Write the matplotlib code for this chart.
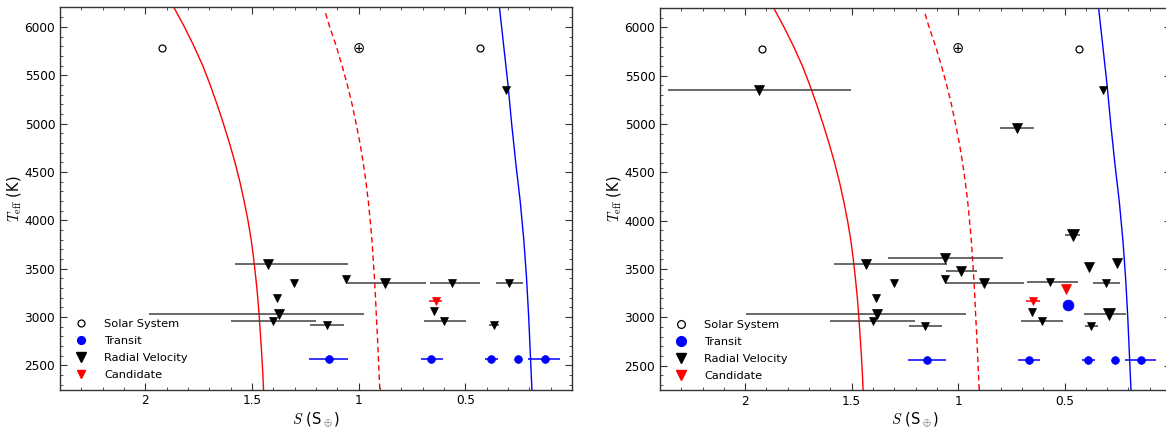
import numpy as np
import matplotlib.pyplot as plt
from matplotlib.lines import Line2D
from matplotlib.ticker import MultipleLocator

plt.rcParams['font.family'] = 'DejaVu Sans'
plt.rcParams['mathtext.fontset'] = 'cm'

nan = np.nan

# Solar system (Venus, Mars) and Earth
ss_s = [1.92, 0.43]
ss_t = [5778, 5778]
earth_s = 1.0
earth_t = 5778

# habitable zone limits
venus_t = [6200, 6000, 5800, 5600, 5400, 5200, 5000, 4800, 4600, 4400, 4200,
           4000, 3800, 3600, 3400, 3200, 3000, 2800, 2600, 2400, 2250]
venus_s = [1.866, 1.817, 1.772, 1.731, 1.696, 1.664, 1.634, 1.606, 1.580, 1.557, 1.537,
           1.519, 1.504, 1.492, 1.482, 1.473, 1.466, 1.460, 1.454, 1.449, 1.446]
runaway_t = [6140, 6000, 5800, 5600, 5400, 5200, 5000, 4800, 4600, 4400, 4200,
             4000, 3800, 3600, 3400, 3200, 3000, 2800, 2600, 2400, 2250]
runaway_s = [1.155, 1.136, 1.105, 1.078, 1.053, 1.031, 1.012, 0.994, 0.979, 0.966, 0.955,
             0.946, 0.938, 0.932, 0.926, 0.921, 0.917, 0.912, 0.908, 0.904, 0.901]
mars_t = [6200, 5800, 5400, 5000, 4600, 4200, 3800, 3400, 3000, 2600, 2250]
mars_s = [0.340, 0.320, 0.300, 0.283, 0.264, 0.243, 0.226, 0.213, 0.203, 0.195, 0.188]

xtick_vals = [2, 1.5, 1, 0.5]
xtick_labels = ['2', '1.5', '1', '0.5']
ytick_vals = [2500, 3000, 3500, 4000, 4500, 5000, 5500, 6000]

# ---- left panel ----
rv1_s = [1.425, 1.303, 1.059, 0.875, 0.561, 0.296, 1.382, 1.373, 1.40, 1.15, 0.646, 0.598, 0.366, 0.308]
rv1_t = [3550, 3350, 3390, 3350, 3350, 3350, 3200, 3035, 2960, 2912, 3060, 2960, 2912, 5350]
rv1_hi = [1.58, nan, nan, 1.06, 0.667, 0.354, nan, 1.983, 1.60, 1.228, nan, 0.695, 0.39, nan]
rv1_lo = [1.05, nan, nan, 0.685, 0.432, 0.232, nan, 0.976, 1.199, 1.07, nan, 0.497, 0.34, nan]
rv1_ms = [7.5, 6.2, 5.8, 6.7, 6.0, 5.8, 5.8, 6.7, 5.6, 5.3, 5.6, 5.8, 5.6, 6.0]

cand1_s = [0.639]
cand1_t = [3170]
cand1_hi = [0.67]
cand1_lo = [0.61]
cand1_ms = [6.0]

tr1_s = [1.141, 0.662, 0.378, 0.253, 0.127]
tr1_t = [2562, 2562, 2562, 2562, 2562]
tr1_hi = [1.232, 0.709, 0.41, nan, 0.206]
tr1_lo = [1.052, 0.606, 0.349, nan, 0.057]
tr1_ms = [5.6, 5.6, 5.6, 5.6, 5.6]

# ---- right panel ----
rv2_s = [1.933, 0.32, 0.722, 0.461, 1.06, 1.431, 0.984, 0.387, 0.255, 1.063, 1.30,
         0.88, 0.567, 0.306, 1.384, 1.380, 0.655, 0.29, 1.40, 0.606, 1.155, 0.377]
rv2_t = [5350, 5350, 4960, 3850, 3610, 3552, 3480, 3524, 3560, 3395, 3357,
         3357, 3362, 3357, 3204, 3038, 3057, 3040, 2960, 2960, 2911, 2911]
rv2_hi = [2.363, nan, 0.801, 0.496, 1.331, 1.585, 1.055, nan, nan, nan, nan,
          1.063, 0.676, 0.366, nan, 1.995, nan, 0.408, 1.60, 0.703, 1.232, 0.405]
rv2_lo = [1.505, nan, 0.644, 0.426, 0.79, 1.051, 0.910, nan, nan, nan, nan,
          0.69, 0.438, 0.241, nan, 0.963, nan, 0.211, 1.204, 0.505, 1.077, 0.343]
rv2_ms = [7.0, 6.0, 7.5, 8.0, 6.7, 7.2, 6.7, 7.4, 7.4, 6.0, 6.2,
          6.5, 6.3, 6.0, 5.6, 6.7, 5.6, 8.0, 5.3, 5.8, 5.6, 6.0]

cand2_s = [0.491, 0.65]
cand2_t = [3290, 3172]
cand2_hi = [nan, 0.68]
cand2_lo = [nan, 0.616]
cand2_ms = [7.2, 6.0]

tr2_s = [0.482, 1.148, 0.667, 0.391, 0.262, 0.139]
tr2_t = [3134, 2562, 2562, 2562, 2562, 2562]
tr2_hi = [nan, 1.236, 0.717, 0.417, nan, 0.215]
tr2_lo = [nan, 1.058, 0.616, 0.359, nan, 0.07]
tr2_ms = [7.8, 5.6, 5.6, 5.6, 5.6, 5.6]


def draw_set(ax, s, t, hi, lo, ms, marker, color, ecolor):
    s = np.array(s)
    t = np.array(t)
    hi = np.array(hi)
    lo = np.array(lo)
    has = ~np.isnan(hi)
    xerr = np.vstack([s[has] - lo[has], hi[has] - s[has]])
    ax.errorbar(s[has], t[has], xerr=xerr, fmt='none', ecolor=ecolor,
                elinewidth=1.1, capsize=0, zorder=2)
    for x, y, m in zip(s, t, ms):
        ax.plot(x, y, marker, color=color, ms=m, mec=color, mew=0.5, zorder=3)


def panel(ax, rv, cand, tr, leg_ms):
    ax.plot(venus_s, venus_t, '-', color='r', lw=1)
    ax.plot(runaway_s, runaway_t, '--', color='r', lw=1, dashes=(4, 2.6))
    ax.plot(mars_s, mars_t, '-', color='b', lw=1)

    ax.plot(ss_s, ss_t, 'o', mfc='none', mec='k', ms=5, mew=0.9)
    ax.text(earth_s, earth_t, '\u2295', ha='center', va='center', fontsize=10.5)

    draw_set(ax, *rv, 'v', 'k', '0.25')
    draw_set(ax, *cand, 'v', 'r', 'r')
    draw_set(ax, *tr, 'o', 'b', 'b')

    ax.set_xlim(2.4, 0)
    ax.set_ylim(2250, 6200)
    ax.set_xticks(xtick_vals)
    ax.set_xticklabels(xtick_labels)
    ax.set_yticks(ytick_vals)
    ax.xaxis.set_minor_locator(MultipleLocator(0.1))
    ax.yaxis.set_minor_locator(MultipleLocator(100))
    ax.tick_params(which='both', direction='in', top=True, right=True,
                   labelsize=8.7, color='0.2')
    ax.tick_params(which='major', length=5)
    ax.tick_params(which='minor', length=2.5)
    for sp in ax.spines.values():
        sp.set_color('0.2')
        sp.set_linewidth(1.0)

    ax.set_xlabel(r'$S$ (S$_\oplus$)', fontsize=10.5, labelpad=2)
    ax.set_ylabel(r'$T_{\rm eff}$ (K)', fontsize=10.5, labelpad=1)

    handles = [
        Line2D([], [], ls='none', marker='o', mfc='none', mec='k', ms=leg_ms[0], mew=0.9),
        Line2D([], [], ls='none', marker='o', color='b', ms=leg_ms[1]),
        Line2D([], [], ls='none', marker='v', color='k', ms=leg_ms[2]),
        Line2D([], [], ls='none', marker='v', color='r', ms=leg_ms[3]),
    ]
    ax.legend(handles, ['Solar System', 'Transit', 'Radial Velocity', 'Candidate'],
              loc='lower left', frameon=False, fontsize=8.2, handletextpad=1.1,
              labelspacing=0.62, borderaxespad=0.4)


fig = plt.figure(figsize=(11.66, 4.29), dpi=100)
ax1 = fig.add_axes([60 / 1166, 39.5 / 429, 512 / 1166, 382 / 429])
ax2 = fig.add_axes([660 / 1166, 39 / 429, 511 / 1166, 382 / 429])

panel(ax1, (rv1_s, rv1_t, rv1_hi, rv1_lo, rv1_ms),
      (cand1_s, cand1_t, cand1_hi, cand1_lo, cand1_ms),
      (tr1_s, tr1_t, tr1_hi, tr1_lo, tr1_ms), [5, 5.6, 6.7, 5.5])
panel(ax2, (rv2_s, rv2_t, rv2_hi, rv2_lo, rv2_ms),
      (cand2_s, cand2_t, cand2_hi, cand2_lo, cand2_ms),
      (tr2_s, tr2_t, tr2_hi, tr2_lo, tr2_ms), [5.6, 7, 7.5, 6.5])

fig.savefig('out.png', dpi=100)
